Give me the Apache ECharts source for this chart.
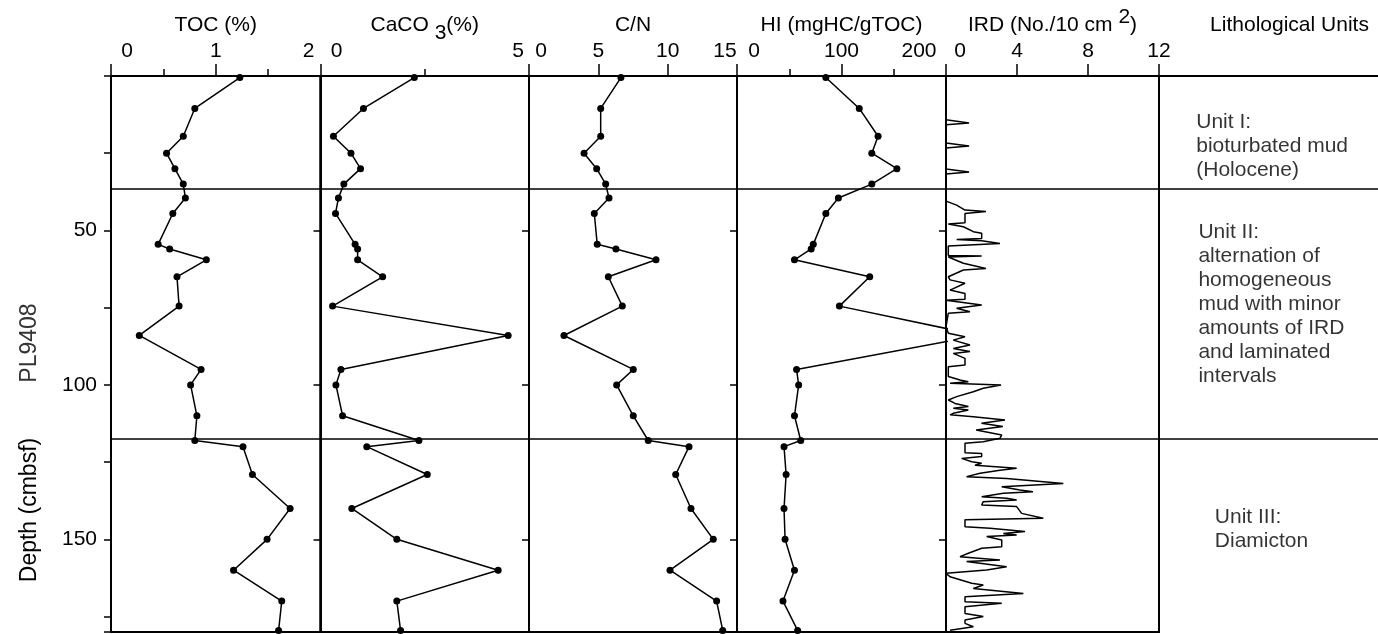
<!DOCTYPE html>
<html>
<head>
<meta charset="utf-8">
<script src="https://cdn.jsdelivr.net/npm/echarts@6/dist/echarts.min.js"></script>
<style>
  html, body { margin: 0; padding: 0; background: #fff; }
  #chart { width: 1378px; height: 634px; }
</style>
</head>
<body>
<div id="chart"></div>
<script>
// Core PL9408: downcore profiles against depth (cmbsf)
const sampleDepth = [0.5, 10.5, 19.5, 25, 30, 35, 39.5, 44.5, 54.5, 56, 59.5, 65, 74.5, 84, 95, 100, 110, 118, 120, 129, 140, 150, 160, 170, 179.5];
const toc   = [1.23, 0.80, 0.69, 0.53, 0.61, 0.69, 0.71, 0.59, 0.45, 0.56, 0.91, 0.63, 0.65, 0.27, 0.86, 0.76, 0.82, 0.80, 1.26, 1.35, 1.71, 1.49, 1.17, 1.63, 1.60];
const caco3 = [2.25, 1.03, 0.31, 0.73, 0.96, 0.56, 0.43, 0.36, 0.83, 0.89, 0.89, 1.49, 0.29, 4.50, 0.49, 0.37, 0.53, 2.36, 1.11, 2.56, 0.75, 1.83, 4.26, 1.83, 1.92];
const cn    = [6.63, 5.17, 5.17, 3.97, 4.88, 5.53, 5.77, 4.71, 4.92, 6.27, 9.16, 5.72, 6.73, 2.52, 7.52, 6.32, 7.52, 8.60, 11.54, 10.58, 11.68, 13.29, 10.17, 13.53, 13.97];
const hi    = [85, 117, 135, 129, 153, 129, 97, 85, 73, 71, 55, 127, 98, 232, 57, 59, 55, 61, 45, 47, 45, 46, 55, 44, 58];

// Ice-rafted debris counts (No./10 cm2), continuous record
const irdDepth = [0, 14.2, 15.2, 15.8, 21.7, 22.7, 23.3, 30.1, 31.1, 31.7, 40.5, 41.8, 43.4, 43.9, 44.5, 47.5, 47.9, 48.8, 50.4, 50.9,
  52.6, 52.9, 53.3, 54.2, 55.0, 58.1, 58.3, 58.6, 60.6, 62.3, 62.8, 65.0, 66.0, 67.1, 69.3, 70.4, 72.3, 72.6, 74.1, 75.2,
  76.3, 76.8, 81.2, 83.3, 84.4, 85.5, 87.1, 88.2, 89.2, 89.8, 91.4, 93.6, 94.1, 97.3, 98.4, 99.0, 99.5, 100.0, 101.1, 102.2,
  103.8, 104.9, 106.0, 107.0, 107.6, 108.1, 109.2, 109.7, 110.3, 111.4, 112.4, 113.5, 114.6, 116.2, 117.3, 118.4, 118.9, 122.0, 122.2, 123.2,
  123.8, 124.9, 125.4, 126.0, 127.0, 127.6, 128.6, 129.7, 130.3, 131.9, 133.0, 134.0, 134.6, 135.1, 136.2, 136.7, 137.3, 137.8, 138.9, 139.4,
  141.6, 143.2, 143.7, 145.9, 146.4, 147.5, 148.1, 148.6, 149.1, 150.2, 152.4, 152.9, 154.5, 155.6, 156.7, 157.2, 158.9, 159.9, 161.0, 162.1,
  164.2, 164.8, 165.9, 167.5, 168.6, 170.2, 170.7, 171.8, 174.0, 175.0, 176.1, 177.2, 178.3, 179.4];
const irdCount = [0, 0, 1.3, 0, 0, 1.3, 0, 0, 1.3, 0, 0, 0.6, 1.07, 2.25, 1.07, 1.07, 0.13, 0.98, 1.54, 2.01,
  2.01, 0.6, 2.01, 3.04, 0.13, 0.13, 2.01, 0.13, 0.98, 2.25, 0.98, 0.13, 0.23, 1.07, 0.23, 1.07, 1.07, 0, 2.01, 0.6,
  1.35, 0.13, 0, 0.13, 1.07, 0.41, 1.35, 0.41, 1.35, 0.41, 1.07, 1.07, 0.13, 0.13, 0.79, 1.26, 0.23, 3.10, 2.10, 1.54,
  0.6, 0.13, 0.51, 1.26, 0.41, 1.26, 0.41, 0.23, 1.54, 3.32, 2.0, 3.2, 1.7, 3.14, 3.04, 2.10, 1.07, 1.07, 2.01, 2.01,
  0.88, 1.45, 2.01, 1.63, 3.98, 3.04, 1.92, 1.16, 3.42, 6.61, 3.14, 4.17, 4.9, 3.23, 2.01, 3.42, 3.98, 2.10, 2.01, 3.98,
  4.26, 5.48, 1.07, 1.07, 2.48, 4.45, 3.23, 3.98, 2.29, 3.14, 3.14, 2.01, 1.26, 0.79, 3.04, 1.16, 3.42, 2.29, 0, 0.23,
  1.45, 2.10, 1.54, 4.36, 1.07, 1.07, 3.14, 1.07, 1.07, 2.10, 1.07, 1.07, 1.54, 0.23];

// Lithological units
const unitBoundaries = [36.5, 117.5];
const unitNames = ['Unit I:\nbioturbated mud\n(Holocene)',
  'Unit II:\nalternation of\nhomogeneous\nmud with minor\namounts of IRD\nand laminated\nintervals',
  'Unit III:\nDiamicton'];
const unitLabelDepth = [22.7, 73.8, 146.6];

// Axis tick labels
const depthTickLabels = [50, 100, 150];
const tocTicks = [0, 1, 2];
const caco3Ticks = [0, 5];
const cnTicks = [0, 5, 10, 15];
const hiTicks = [0, 100, 200];
const irdTicks = [0, 4, 8, 12];

const FONT = "'Liberation Sans', Arial, Helvetica, sans-serif";
const FS = 21;
const TOP = 76, HEIGHT = 556;

// Panel layout: pixel position, width, value range and tick setup
const panels = [
  { name: '{n|TOC (%)}', left: 111, width: 209.5, min: 0, max: 2, interval: 1, minor: 2, ticks: tocTicks, minShift: 16, maxShift: -12, vals: toc },
  { name: '{n|CaCO }{s|3}{n|(%)}', left: 320.5, width: 208.5, min: 0, max: 5, interval: 5, minor: 2, ticks: caco3Ticks, minShift: 16, maxShift: -11, vals: caco3, sub: true },
  { name: '{n|C/N}', left: 529, width: 208, min: 0, max: 15, interval: 5, minor: 0, ticks: cnTicks, minShift: 12, maxShift: -12, vals: cn },
  { name: '{n|HI (mgHC/gTOC)}', left: 737, width: 209, min: 0, max: 200, interval: 100, minor: 2, ticks: hiTicks, minShift: 17, maxShift: -27, vals: hi },
  { name: '{n|IRD (No./10 cm }{p|2}{n|)}', left: 946, width: 213, min: 0, max: 12, interval: 4, minor: 0, ticks: irdTicks, minShift: 14, maxShift: 0, ird: true }
];
const lithoLeft = 1159;

const black = '#000';
const grids = [], xAxes = [], yAxes = [], series = [];

const boundaryLine = {
  silent: true,
  symbol: ['none', 'none'],
  label: { show: false },
  lineStyle: { color: black, width: 1.6, type: 'solid' },
  emphasis: { disabled: true },
  data: unitBoundaries.map(d => ({ yAxis: d }))
};

panels.forEach((p, i) => {
  grids.push({
    left: p.left, top: TOP, width: p.width, height: HEIGHT,
    show: true, borderColor: black, borderWidth: 2, backgroundColor: 'transparent',
    containLabel: false, outerBoundsMode: 'none'
  });
  xAxes.push({
    gridIndex: i, type: 'value', position: 'top', min: p.min, max: p.max, interval: p.interval,
    axisLine: { show: true, onZero: false, lineStyle: { color: black, width: 2 } },
    axisTick: { show: true, length: 12, lineStyle: { color: black, width: 1.5 } },
    minorTick: { show: p.minor > 0, splitNumber: p.minor || 5, length: 7, lineStyle: { color: black, width: 1.5 } },
    splitLine: { show: false }, minorSplitLine: { show: false },
    axisLabel: {
      color: black, fontSize: FS, fontFamily: FONT, margin: 14, hideOverlap: false,
      formatter: v => {
        if (p.ticks.indexOf(v) < 0) return '';
        if (v === p.min && p.minShift) return '{a|' + v + '}';
        if (v === p.max && p.maxShift) return '{b|' + v + '}';
        return String(v);
      },
      rich: {
        a: { fontSize: FS, fontFamily: FONT, color: black, padding: [0, 0, 0, 2 * p.minShift] },
        b: { fontSize: FS, fontFamily: FONT, color: black, padding: [0, -2 * p.maxShift, 0, 0] }
      }
    },
    name: p.name, nameLocation: 'middle', nameGap: p.sub ? 32 : 40, nameMoveOverlap: false,
    nameTextStyle: {
      color: black, fontSize: FS, fontFamily: FONT,
      rich: {
        n: { fontSize: FS, fontFamily: FONT, color: black, verticalAlign: p.ird ? 'bottom' : 'top' },
        s: { fontSize: FS, fontFamily: FONT, color: black, padding: [8, 0, 0, 0], verticalAlign: 'bottom' },
        p: { fontSize: FS, fontFamily: FONT, color: black, padding: [0, 0, 8, 0], verticalAlign: 'top' }
      }
    }
  });
  yAxes.push({
    gridIndex: i, type: 'value', inverse: true, min: 0, max: 180, interval: i === 0 ? 25 : 50,
    axisLine: { show: true, onZero: false, lineStyle: { color: black, width: 2 } },
    axisTick: { show: true, length: 7, lineStyle: { color: black, width: 1.5 } },
    splitLine: { show: false },
    axisLabel: {
      show: i === 0, color: black, fontSize: FS, fontFamily: FONT, margin: 14,
      formatter: v => depthTickLabels.indexOf(v) >= 0 ? String(v) : ''
    }
  });
  const data = p.ird
    ? irdDepth.map((d, k) => [irdCount[k], d])
    : sampleDepth.map((d, k) => [p.vals[k], d]);
  series.push({
    type: 'line', xAxisIndex: i, yAxisIndex: i, data,
    clip: true,
    symbol: p.ird ? 'none' : 'circle', symbolSize: 7, showSymbol: !p.ird,
    lineStyle: { color: black, width: 1.5 },
    itemStyle: { color: black, borderWidth: 0 },
    emphasis: { disabled: true },
    markLine: boundaryLine,
    z: 3
  });
});

// Lithology column
const li = panels.length;
grids.push({ left: lithoLeft, top: TOP, right: 0, height: HEIGHT, show: false, containLabel: false, outerBoundsMode: 'none' });
xAxes.push({
  gridIndex: li, type: 'value', position: 'top', min: 0, max: 1,
  axisLine: { show: true, onZero: false, lineStyle: { color: black, width: 2 } },
  axisTick: { show: false }, axisLabel: { show: false }, splitLine: { show: false },
  name: 'Lithological Units', nameLocation: 'middle', nameGap: 40, nameMoveOverlap: false,
  nameTextStyle: { color: black, fontSize: FS, fontFamily: FONT, padding: [0, 0, 0, 42] }
});
yAxes.push({
  gridIndex: li, type: 'value', inverse: true, min: 0, max: 180,
  axisLine: { show: true, onZero: false, lineStyle: { color: black, width: 2 } },
  axisTick: { show: false }, axisLabel: { show: false }, splitLine: { show: false }
});
const lithoTextX = [0.17, 0.18, 0.255];
series.push({
  type: 'scatter', xAxisIndex: li, yAxisIndex: li,
  symbolSize: 0, silent: true,
  data: unitLabelDepth.map((d, k) => ({ value: [lithoTextX[k], d], name: unitNames[k] })),
  label: {
    show: true, position: 'right', distance: 0, formatter: q => q.name,
    color: black, fontSize: FS, fontFamily: FONT, lineHeight: 24, align: 'left'
  },
  markLine: boundaryLine
});

const chart = echarts.init(document.getElementById('chart'), null, { renderer: 'canvas' });
chart.setOption({
  backgroundColor: '#fff',
  animation: false,
  grid: grids,
  xAxis: xAxes,
  yAxis: yAxes,
  series,
  graphic: [
    { type: 'text', x: 30, y: 510, rotation: Math.PI / 2,
      style: { text: 'Depth (cmbsf)', fontSize: 23, fontFamily: FONT, fill: black, align: 'center', verticalAlign: 'middle' } },
    { type: 'text', x: 30, y: 343, rotation: Math.PI / 2,
      style: { text: 'PL9408', fontSize: 23, fontFamily: FONT, fill: '#333', align: 'center', verticalAlign: 'middle' } }
  ]
});
</script>
</body>
</html>
